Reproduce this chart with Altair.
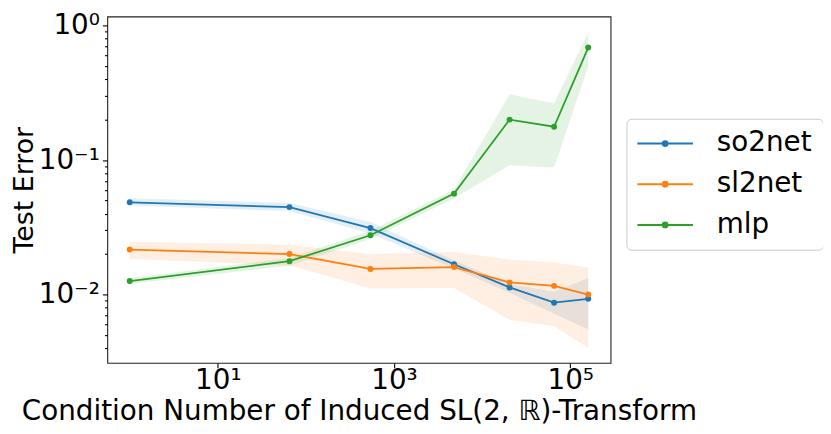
import altair as alt
import pandas as pd

# ---- data ----
x_vals = [1, 65, 540, 4800, 20500, 65600, 160000]
series = ["so2net", "sl2net", "mlp"]
colors = ["#1f77b4", "#ff7f0e", "#2ca02c"]

so2_mean = [0.0485, 0.0447, 0.0312, 0.0168, 0.0113, 0.0087, 0.0093]
so2_lo = [0.0459, 0.0418, 0.0284, 0.0156, 0.0103, 0.0072, 0.0055]
so2_hi = [0.0521, 0.0480, 0.0347, 0.0179, 0.0120, 0.0105, 0.0133]

sl2_mean = [0.0216, 0.0200, 0.0155, 0.0160, 0.0123, 0.0116, 0.0100]
sl2_lo = [0.0184, 0.0165, 0.0111, 0.0112, 0.0065, 0.0058, 0.0040]
sl2_hi = [0.0247, 0.0235, 0.0200, 0.0207, 0.0182, 0.0173, 0.0159]

mlp_mean = [0.0126, 0.0177, 0.0276, 0.0563, 0.200, 0.177, 0.687]
mlp_lo = [0.0120, 0.0164, 0.0259, 0.0520, 0.0916, 0.088, 0.496]
mlp_hi = [0.0133, 0.0187, 0.0298, 0.0605, 0.309, 0.264, 0.891]

x_tick_labels = {10: "10¹", 1000: "10³", 100000: "10⁵"}
y_tick_labels = {1: "10⁰", 0.1: "10⁻¹", 0.01: "10⁻²"}
y_minor = [0.004, 0.005, 0.006, 0.007, 0.008, 0.009,
           0.02, 0.03, 0.04, 0.05, 0.06, 0.07, 0.08, 0.09,
           0.2, 0.3, 0.4, 0.5, 0.6, 0.7, 0.8, 0.9]

means = [so2_mean, sl2_mean, mlp_mean]
los = [so2_lo, sl2_lo, mlp_lo]
his = [so2_hi, sl2_hi, mlp_hi]

rows = []
for name, m, lo, hi in zip(series, means, los, his):
    for xv, a, b, c in zip(x_vals, m, lo, hi):
        rows.append({"series": name, "x": xv, "y": a, "lo": b, "hi": c})
df = pd.DataFrame(rows)

FONT = "DejaVu Sans"
FS = 28

def label_expr(mapping):
    parts = [f"datum.value == {k} ? '{v}'" for k, v in mapping.items()]
    return " : ".join(parts) + " : ''"

major_test = "indexof([" + ", ".join(str(k) for k in y_tick_labels) + "], datum.value) >= 0"

xscale = alt.Scale(type="log", domain=[0.556, 287000], nice=False)
yscale = alt.Scale(type="log", domain=[0.0031, 1.17], nice=False)

x_axis = alt.Axis(
    values=list(x_tick_labels.keys()),
    labelExpr=label_expr(x_tick_labels),
    title="Condition Number of Induced SL(2, ℝ)-Transform",
    tickSize=4.9, tickWidth=1.1, tickColor="black",
    labelPadding=-1, labelFlush=False, labelFontSize=FS, labelFont=FONT,
    labelColor="black", titleFontSize=FS, titleFont=FONT, titleColor="black",
    titleFontWeight="normal", titleY=57, titleBaseline="alphabetic",
    grid=False, domain=False,
)
y_axis = alt.Axis(
    values=sorted(list(y_tick_labels.keys()) + y_minor),
    labelExpr=label_expr(y_tick_labels),
    title="Test Error",
    tickSize={"condition": {"test": major_test, "value": 4.9}, "value": 2.8},
    tickWidth=1.1, tickColor="black",
    labelPadding=3, labelFontSize=FS, labelFont=FONT, labelColor="black",
    labelOverlap=False, labelFlush=False,
    titleFontSize=27, titleFont=FONT, titleColor="black", titleFontWeight="normal",
    titleX=-75, titleBaseline="alphabetic",
    grid=False, domain=False,
)

legend_path = ("M-2.8,0H2.8M-0.24,0A0.24,0.24,0,1,1,0.24,0"
               "A0.24,0.24,0,1,1,-0.24,0Z")
legend = alt.Legend(
    title=None, orient="none", legendX=523, legendY=103,
    symbolType=legend_path, symbolSize=400, symbolStrokeWidth=2,
    symbolOffset=14, labelOffset=38, symbolOpacity=1,
    labelFontSize=FS, labelFont=FONT, labelColor="black", labelLimit=0,
    padding=11, rowPadding=13, strokeColor="#cccccc",
    fillColor="rgba(255,255,255,0.8)", cornerRadius=5,
)
color = alt.Color("series:N", scale=alt.Scale(domain=series, range=colors), legend=legend)

base = alt.Chart(df)
x_enc = alt.X("x:Q", scale=xscale, axis=x_axis)

bands = base.mark_area(opacity=0.12).encode(
    x=x_enc,
    y=alt.Y("lo:Q", scale=yscale, axis=y_axis),
    y2="hi:Q",
    color=color,
    detail="series:N",
)
lines = base.mark_line(strokeWidth=1.8).encode(
    x=x_enc,
    y=alt.Y("y:Q", scale=yscale, axis=y_axis),
    color=color,
)
points = base.mark_point(filled=True, size=36, opacity=1).encode(
    x=x_enc,
    y=alt.Y("y:Q", scale=yscale, axis=y_axis),
    color=color,
)

chart = (
    alt.layer(bands, lines, points)
    .properties(
        width=507, height=349,
        autosize=alt.AutoSizeParams(type="none"),
        padding={"left": 100, "top": 7, "right": 214, "bottom": 62},
    )
    .configure_view(stroke="#222222", strokeWidth=1.1)
)

chart.save("out.html", embed_options={"renderer": "svg", "actions": False})
